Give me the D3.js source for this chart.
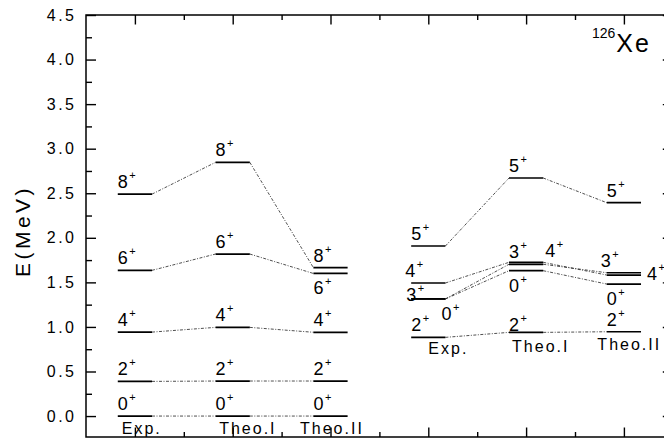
<!DOCTYPE html>
<html>
<head>
<meta charset="utf-8">
<script src="https://cdn.jsdelivr.net/npm/d3@7"></script>
<style>
  body { margin: 0; background: #fff; }
  svg { display: block; }
  text { font-family: Arial, "Liberation Sans", sans-serif; fill: #000; }
</style>
</head>
<body>
<div id="idMyCanvas"></div>
<script>
// Data (MeV)
// -------------------
let col_names = ["Exp.", "Theo.I", "Theo.II"];

// ground band, left block
let gsb_spins = ["0", "2", "4", "6", "8"];
let gsb_exp = [0.0, 0.389, 0.942, 1.635, 2.49];
let gsb_theo1 = [0.0, 0.393, 0.995, 1.818, 2.847];
let gsb_theo2 = [0.0, 0.393, 0.940, 1.600, 1.665];
let gsb_cols = [1, 3, 5];
let gsb_place = [
   ["up", "up", "up", "up", "up"],
   ["up", "up", "up", "up", "up"],
   ["up", "up", "up", "down", "up"]
];
let gsb_name_x = [1.14, 3.31, 5.03];
let gsb_name_e = [-0.20, -0.20, -0.20];

// gamma band + 0+, right block
let gam_spins = ["2", "3", "4", "0", "5"];
let gam_exp = [0.883, 1.314, 1.493, 1.314, 1.908];
let gam_theo1 = [0.939, 1.703, 1.725, 1.631, 2.671];
let gam_theo2 = [0.946, 1.608, 1.582, 1.481, 2.394];
let gam_cols = [7, 9, 11];
let gam_place = [
   ["up", "on", "upL", "downR", "up"],
   ["tight", "up", "upR", "down", "up"],
   ["up", "upL", "right", "down", "up"]
];
let gam_name_x = [7.41, 9.30, 11.11];
let gam_name_e = [0.70, 0.72, 0.74];

let y_ticks = [0, 0.5, 1, 1.5, 2, 2.5, 3, 3.5, 4, 4.5];
let y_minor = [0.25, 0.75, 1.25, 1.75, 2.25, 2.75, 3.25, 3.75, 4.25];
let x_ticks = [1, 3, 5, 7, 9, 11];
let x_minor = [2, 4, 6, 8, 10];
// -------------------

let width = 664, height = 438;
let plot_x0 = 86, plot_x1 = 672.8, plot_y0 = 15, plot_y1 = 437;

let svg_obj = d3.select("#idMyCanvas")
                .append("svg")
                  .attr("width", width)
                  .attr("height", height)
                  .attr("xmlns", "http://www.w3.org/2000/svg");

svg_obj.append("rect")
   .attr("width", width).attr("height", height).attr("fill", "#fff");

let x = d3.scaleLinear().domain([0, 12]).range([plot_x0, plot_x1]);
let y = d3.scaleLinear().domain([-0.235, 4.5]).range([plot_y1, plot_y0]);

let half_w = 0.35;


// Axes (ticks inward)
// -------------------
function styleAxis(g) {
   g.select(".domain").remove();
   g.selectAll("line").attr("stroke", "#000").attr("stroke-width", 1.4);
   g.selectAll("text").attr("font-size", 16).attr("letter-spacing", "2.5px")
      .attr("font-family", "Arial, 'Liberation Sans', sans-serif");
}

svg_obj.append("g").attr("transform", `translate(${plot_x0},0)`)
   .call(d3.axisLeft(y).tickValues(y_ticks).tickFormat(d3.format(".1f"))
      .tickSizeInner(-10).tickSizeOuter(0).tickPadding(9.5))
   .call(styleAxis);
svg_obj.append("g").attr("transform", `translate(${plot_x0},0)`)
   .call(d3.axisLeft(y).tickValues(y_minor).tickFormat("")
      .tickSizeInner(-6).tickSizeOuter(0))
   .call(styleAxis);

svg_obj.append("g").attr("transform", `translate(${plot_x1},0)`)
   .call(d3.axisRight(y).tickValues(y_ticks).tickFormat("")
      .tickSizeInner(-10).tickSizeOuter(0))
   .call(styleAxis);
svg_obj.append("g").attr("transform", `translate(${plot_x1},0)`)
   .call(d3.axisRight(y).tickValues(y_minor).tickFormat("")
      .tickSizeInner(-6).tickSizeOuter(0))
   .call(styleAxis);

[[plot_y0, d3.axisTop], [plot_y1, d3.axisBottom]].forEach(function (p) {
   svg_obj.append("g").attr("transform", `translate(0,${p[0]})`)
      .call(p[1](x).tickValues(x_ticks).tickFormat("")
         .tickSizeInner(-9.5).tickSizeOuter(0))
      .call(styleAxis);
   svg_obj.append("g").attr("transform", `translate(0,${p[0]})`)
      .call(p[1](x).tickValues(x_minor).tickFormat("")
         .tickSizeInner(-5).tickSizeOuter(0))
      .call(styleAxis);
});

svg_obj.append("rect")
   .attr("x", plot_x0).attr("y", plot_y0)
   .attr("width", plot_x1 - plot_x0).attr("height", plot_y1 - plot_y0)
   .attr("fill", "none").attr("stroke", "#000").attr("stroke-width", 1.5);

svg_obj.append("text")
   .attr("transform", `translate(30,${(plot_y0 + plot_y1) / 2 + 5}) rotate(-90)`)
   .attr("text-anchor", "middle")
   .attr("font-size", 21)
   .attr("letter-spacing", "3.5px")
   .text("E(MeV)");
// -------------------


// Level schemes
// -------------------
let offsets = {
   up:    function (a, b, v) { return [a, v - 6]; },
   tight: function (a, b, v) { return [a, v - 1]; },
   upL:   function (a, b, v) { return [a - 6, v - 6]; },
   upR:   function (a, b, v) { return [b + 2, v - 5]; },
   down:  function (a, b, v) { return [a, v + 21]; },
   downR: function (a, b, v) { return [b - 4, v + 21]; },
   on:    function (a, b, v) { return [a - 5, v + 2]; },
   right: function (a, b, v) { return [b + 6, v + 5]; }
};

function drawBlock(cols, energies, spins, place, name_x, name_e) {
   let g = svg_obj.append("g");

   // connectors
   for (let i = 0; i < cols.length - 1; i++) {
      spins.forEach(function (s, j) {
         g.append("line")
            .attr("x1", x(cols[i] + half_w)).attr("y1", y(energies[i][j]))
            .attr("x2", x(cols[i + 1] - half_w)).attr("y2", y(energies[i + 1][j]))
            .attr("stroke", "#222")
            .attr("stroke-width", 0.8)
            .attr("stroke-dasharray", "3,1.5,1,1.5");
      });
   }

   // levels and spin labels
   cols.forEach(function (c, i) {
      spins.forEach(function (s, j) {
         let a = x(c - half_w), b = x(c + half_w), v = y(energies[i][j]);
         g.append("line")
            .attr("x1", a).attr("x2", b).attr("y1", v).attr("y2", v)
            .attr("stroke", "#000").attr("stroke-width", 1.7);
         let p = offsets[place[i][j]](a, b, v);
         let t = g.append("text")
            .attr("x", p[0]).attr("y", p[1])
            .attr("font-size", 18);
         t.append("tspan").text(s);
         t.append("tspan").attr("font-size", 11).attr("dx", 1.5).attr("dy", -9).text("+");
      });
      g.append("text")
         .attr("x", x(name_x[i])).attr("y", y(name_e[i]))
         .attr("text-anchor", "middle")
         .attr("font-size", 16)
         .attr("letter-spacing", "2px")
         .text(col_names[i]);
   });
}

drawBlock(gsb_cols, [gsb_exp, gsb_theo1, gsb_theo2], gsb_spins, gsb_place, gsb_name_x, gsb_name_e);
drawBlock(gam_cols, [gam_exp, gam_theo1, gam_theo2], gam_spins, gam_place, gam_name_x, gam_name_e);
// -------------------


// Nucleus tag
// -------------------
let tag = svg_obj.append("text").attr("x", 592).attr("y", 52);
tag.append("tspan").attr("font-size", 14).attr("dy", -14).text("126");
tag.append("tspan").attr("font-size", 25).attr("dy", 14).attr("dx", 1)
   .attr("letter-spacing", "2px").text("Xe");
// -------------------
</script>
</body>
</html>
